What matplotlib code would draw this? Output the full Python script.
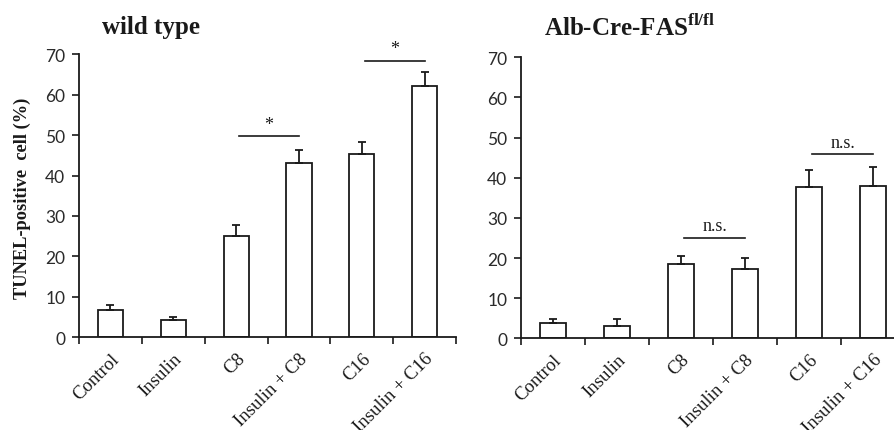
import matplotlib
matplotlib.use("Agg")
import matplotlib.pyplot as plt

plt.rcParams['font.family'] = ['Liberation Serif', 'DejaVu Serif']
plt.rcParams['mathtext.fontset'] = 'custom'
plt.rcParams['mathtext.rm'] = 'Liberation Serif'
plt.rcParams['mathtext.bf'] = 'Liberation Serif:bold'

categories = ["Control", "Insulin", "C8", "Insulin + C8", "C16", "Insulin + C16"]
yticks = [0, 10, 20, 30, 40, 50, 60, 70]

wt_mean = [6.7, 4.4, 25.1, 43.1, 45.4, 62.2]
wt_err = [1.4, 0.7, 2.7, 3.1, 2.8, 3.4]

ko_mean = [3.7, 3.0, 18.5, 17.2, 37.8, 38.0]
ko_err = [1.1, 1.8, 2.1, 2.7, 4.1, 4.6]

# (left bar index, right bar index, line height, label)
wt_sig = [(2, 3, 49.7, "*"), (4, 5, 68.3, "*")]
ko_sig = [(2, 3, 25.0, "n.s."), (4, 5, 45.8, "n.s.")]

ink = "#1a1a1a"

fig = plt.figure(figsize=(8.94, 4.31), dpi=100)


def panel(rect, means, errs, sigs):
    ax = fig.add_axes(rect)
    x = list(range(len(categories)))
    ax.bar(x, means, width=0.4, color="white", edgecolor=ink, linewidth=1.3, zorder=2)
    ax.errorbar(x, means, yerr=[[0] * len(errs), errs], fmt="none", ecolor=ink,
                elinewidth=1.3, capsize=2.8, capthick=1.3, zorder=3)
    ax.set_xlim(-0.5, 5.5)
    ax.set_ylim(0, 70)
    for s in ("top", "right"):
        ax.spines[s].set_visible(False)
    for s in ("left", "bottom"):
        ax.spines[s].set_color(ink)
        ax.spines[s].set_linewidth(1.3)
    ax.set_yticks(yticks, [str(v) for v in yticks], fontfamily="Lato",
                  fontsize=12.5, color="#2a2a2a")
    ax.tick_params(axis="y", direction="out", length=5, width=1.2, color=ink, pad=5)
    ax.set_xticks([i - 0.5 for i in range(len(categories) + 1)], [""] * (len(categories) + 1))
    ax.tick_params(axis="x", which="major", direction="out", length=5, width=1.2, color=ink)
    ax.set_xticks(x, categories, minor=True, rotation=45, ha="right",
                  rotation_mode="anchor", fontsize=13.5, color=ink,
                  fontfamily="Liberation Serif")
    ax.tick_params(axis="x", which="minor", length=0, pad=9)
    for a, b, h, lab in sigs:
        ax.plot([a + 0.05, b], [h, h], color=ink, lw=1.2, zorder=3)
        ax.text((a + 0.05 + b) / 2, h + 0.9, lab, ha="center", va="bottom",
                fontsize=13, color=ink)
    return ax


panel([0.0884, 0.215, 0.4217, 0.657], wt_mean, wt_err, wt_sig)
panel([0.5828, 0.2127, 0.4295, 0.652], ko_mean, ko_err, ko_sig)

fig.text(151 / 894, 1 - 34 / 431, "wild type", ha="center", va="baseline",
         fontsize=18, fontweight="bold", color=ink)
fig.text(630 / 894, 1 - 36 / 431, r"Alb-Cre-FAS$^{\mathbf{fl/fl}}$", ha="center",
         va="baseline", fontsize=18, fontweight="bold", color=ink)
fig.text(22 / 894, 1 - 198 / 431, "TUNEL-positive  cell (%)", rotation=90,
         ha="center", va="center", fontsize=13.2, fontweight="bold", color=ink)

fig.savefig("out.png", dpi=100)
